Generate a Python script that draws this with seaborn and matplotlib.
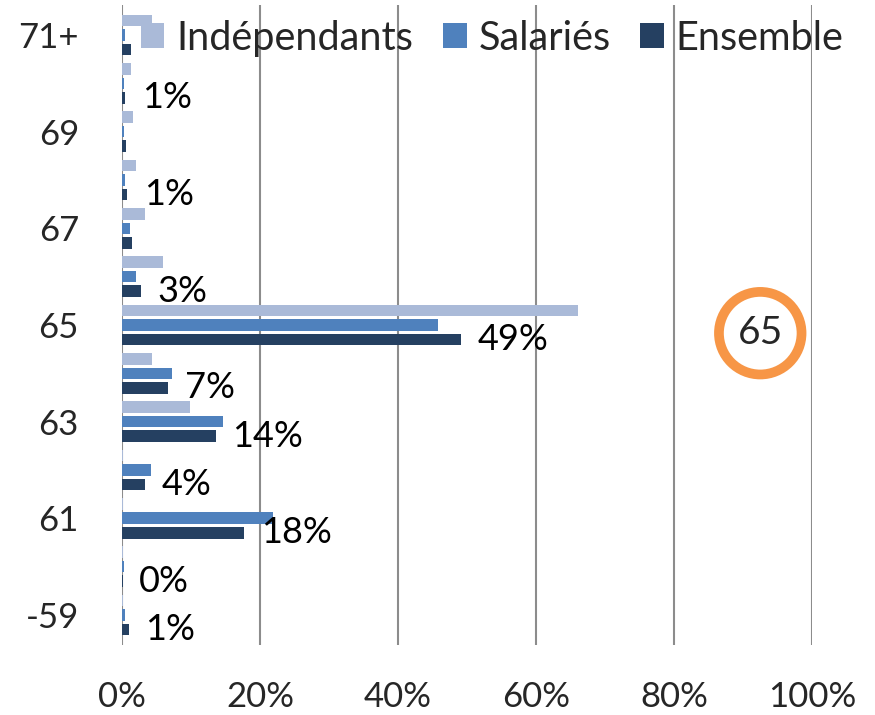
import pandas as pd
import matplotlib
matplotlib.use("Agg")
import matplotlib.pyplot as plt
import seaborn as sns

# Age at retirement, bottom (-59) to top (71+)
ages = ["-59", "60", "61", "62", "63", "64", "65", "66", "67", "68", "69", "70", "71+"]
tick_labels = ["-59", "", "61", "", "63", "", "65", "", "67", "", "69", "", "71+"]

# shares in %
independants = [0.1, 0.2, 0.1, 0.1, 9.8, 4.4, 66.1, 5.9, 3.4, 2.1, 1.6, 1.3, 4.4]
salaries = [0.5, 0.3, 21.9, 4.2, 14.6, 7.3, 45.8, 2.0, 1.1, 0.5, 0.3, 0.3, 0.4]
ensemble = [1.0, 0.1, 17.7, 3.4, 13.6, 6.7, 49.1, 2.7, 1.5, 0.8, 0.6, 0.5, 1.3]
ensemble_labels = ["1%", "0%", "18%", "4%", "14%", "7%", "49%", "3%", "", "1%", "", "1%", ""]

series = ["Indépendants", "Salariés", "Ensemble"]
colors = ["#AABAD8", "#4F81BD", "#254061"]

df = pd.DataFrame({
    "age": ages * 3,
    "groupe": [s for s in series for _ in ages],
    "valeur": independants + salaries + ensemble,
})

sns.set_theme(style="white")
plt.rcParams["font.family"] = ["Lato", "DejaVu Sans"]

fig = plt.figure(figsize=(8.75, 7.15), dpi=100)
ax = fig.add_axes([0.1394, 0.098, 0.7886, 0.895])

order = ages[::-1]
sns.barplot(data=df, y="age", x="valeur", hue="groupe", order=order,
            hue_order=series, palette=colors, saturation=1, orient="h",
            width=0.9, gap=0.2, linewidth=0, ax=ax)

ax.bar_label(ax.containers[2], labels=ensemble_labels[::-1], padding=12,
             fontsize=26, color="black")

ax.set_xlim(0, 100)
ax.set_ylim(12.62, -0.62)
ax.set_xticks([0, 20, 40, 60, 80, 100])
ax.set_xticklabels([f"{v}%" for v in [0, 20, 40, 60, 80, 100]], fontsize=25)
ax.set_yticks(range(len(order)))
ax.set_yticklabels(tick_labels[::-1], fontsize=25)
ax.tick_params(axis="y", length=0, pad=31)
ax.tick_params(axis="x", length=0, pad=26)
ax.set_xlabel("")
ax.set_ylabel("")
ax.grid(axis="x", color="#8C8C8C", linewidth=1.5)
ax.set_axisbelow(True)
for s in ax.spines.values():
    s.set_visible(False)

ax.legend(loc="upper left", bbox_to_anchor=(0.004, 1.002), ncol=3, frameon=False,
          fontsize=28.5, handlelength=0.6, handleheight=0.6, handletextpad=0.3,
          columnspacing=0.75, borderaxespad=0)

# highlighted mode of the distribution
ax.annotate("65", xy=(92.5, order.index("65") + 0.17), ha="center", va="center",
            fontsize=28,
            bbox=dict(boxstyle="circle,pad=0.48", facecolor="white",
                      edgecolor="#F79646", linewidth=7))

fig.savefig("out.png", dpi=100)
